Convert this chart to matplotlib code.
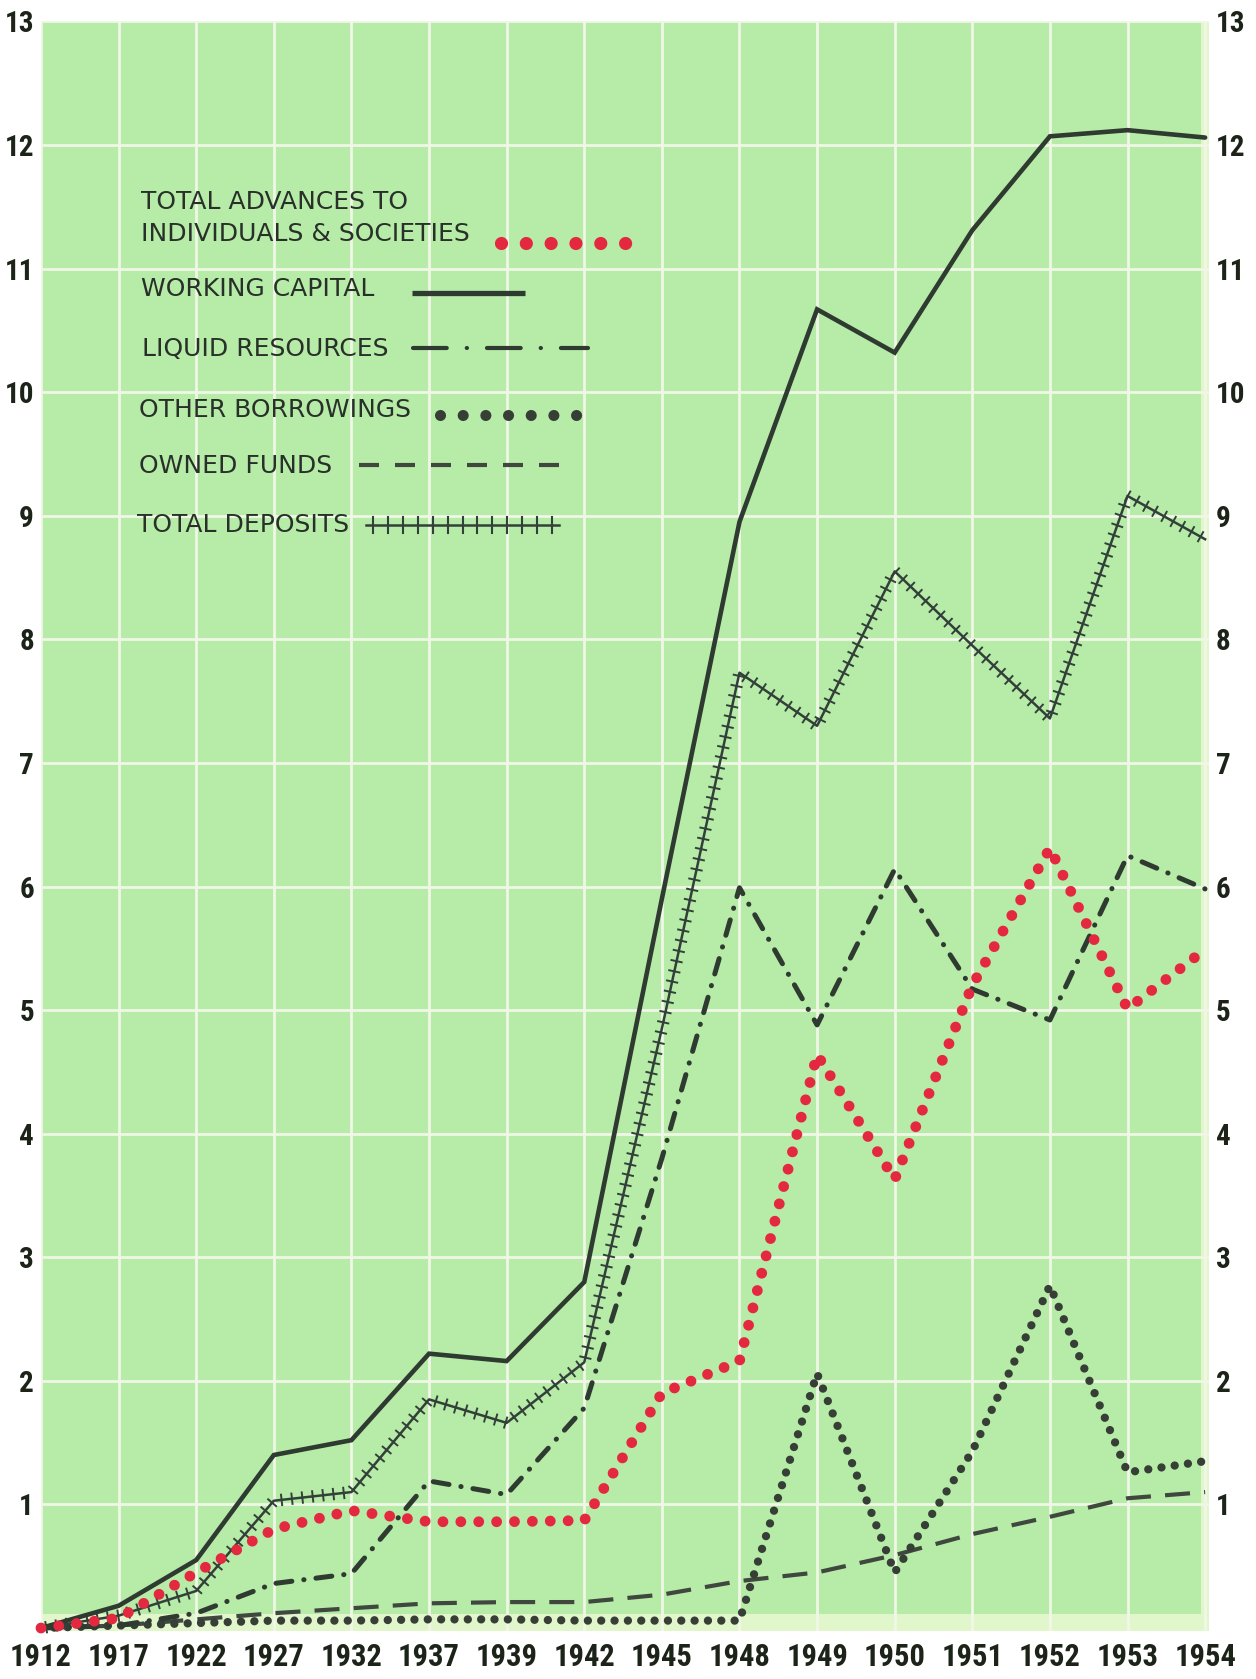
import matplotlib
matplotlib.use("Agg")
import matplotlib.pyplot as plt
import matplotlib.patheffects as pe
from matplotlib.lines import Line2D

# years on the x axis (equally spaced categories)
years = ["1912", "1917", "1922", "1927", "1932", "1937", "1939", "1942",
         "1945", "1948", "1949", "1950", "1951", "1952", "1953", "1954"]

# values
working_capital = [0.0, 0.18, 0.55, 1.40, 1.52, 2.22, 2.16, 2.80,
                   5.90, 8.95, 10.67, 10.32, 11.31, 12.07, 12.12, 12.06]
total_deposits = [0.0, 0.10, 0.30, 1.03, 1.10, 1.85, 1.66, 2.15,
                  4.85, 7.73, 7.30, 8.55, 7.95, 7.36, 9.16, 8.81]
liquid_resources = [0.0, 0.02, 0.12, 0.36, 0.44, 1.19, 1.08, 1.78,
                    3.80, 5.99, 4.88, 6.14, 5.17, 4.92, 6.25, 5.98]
total_advances = [0.0, 0.08, 0.45, 0.80, 0.95, 0.86, 0.86, 0.87,
                  1.90, 2.16, 4.64, 3.63, 5.20, 6.31, 5.01, 5.49]
other_borrowings = [0.0, 0.02, 0.04, 0.06, 0.06, 0.07, 0.07, 0.06,
                    0.06, 0.06, 2.06, 0.45, 1.43, 2.77, 1.26, 1.35]
owned_funds = [0.0, 0.02, 0.07, 0.12, 0.16, 0.20, 0.21, 0.21,
               0.27, 0.38, 0.45, 0.59, 0.76, 0.90, 1.05, 1.10]

y_ticks = list(range(1, 14))

GREEN = "#b6eca7"
PALE = "#e2f6cb"
GRID = "#f1f7e6"
INK = "#2f3a31"
RED = "#e3283f"
TXT = "#283029"
tick_font = ["Roboto Condensed", "Liberation Sans Narrow", "Open Sans Condensed",
             "Liberation Sans", "DejaVu Sans"]

W, H = 1256, 1679
fig = plt.figure(figsize=(W / 100, H / 100), dpi=100)
fig.patch.set_facecolor("white")


def fx(px):
    return px / W


def fy(py):
    return 1 - py / H


ax = fig.add_axes([fx(41), fy(1630.5), fx(1209) - fx(41), fy(21.4) - fy(1630.5)])
ax.set_facecolor(GREEN)
ax.set_xlim(0, 15.05)
ax.set_ylim(-0.02, 13)
for s in ax.spines.values():
    s.set_visible(False)

x = list(range(len(years)))
ax.set_xticks(x)
ax.set_xticklabels(years, fontfamily=tick_font, fontweight="bold", fontsize=22,
                   color="#1c2419")
ax.set_yticks(y_ticks)
ax.set_yticklabels([str(v) for v in y_ticks], fontfamily=tick_font, fontweight="bold",
                   fontsize=21, color="#1c2419")
ax.tick_params(axis="x", length=0, pad=8)
ax.tick_params(axis="y", length=0, pad=5, labelright=True)

ax.set_axisbelow(True)
ax.grid(True, color=GRID, linewidth=2.0)
ax.axhspan(-0.02, 0.11, color=PALE, zorder=0.3, linewidth=0)
ax.axvspan(14.95, 15.05, color=PALE, zorder=0.3, linewidth=0)

# owned funds - dashed
ax.plot(x, owned_funds, color="#3f473f", linewidth=3.0,
        linestyle=(0, (6, 3.4)), dash_capstyle="butt", clip_on=False, zorder=3)

# other borrowings - black dots
ax.plot(x, other_borrowings, color="#363e36", linewidth=6.0,
        linestyle=(0, (0.001, 1.6)), dash_capstyle="round", clip_on=False, zorder=3)

# liquid resources - dash dot
ax.plot(x, liquid_resources, color=INK, linewidth=3.6,
        linestyle=(0, (3.2, 2.4, 0.05, 2.4)), dash_capstyle="round",
        clip_on=False, zorder=4)

# total deposits - line with cross ticks
ticks_fx = [pe.TickedStroke(spacing=7.5, angle=90, length=0.5, linewidth=1.4),
            pe.TickedStroke(spacing=7.5, angle=-90, length=0.5, linewidth=1.4),
            pe.Normal()]
ax.plot(x, total_deposits, color="#33403a", linewidth=1.8,
        path_effects=ticks_fx, clip_on=False, zorder=4)

# working capital - solid
ax.plot(x, working_capital, color=INK, linewidth=3.3, solid_capstyle="round",
        solid_joinstyle="miter", clip_on=False, zorder=5)

# total advances - red dots
ax.plot(x, total_advances, color=RED, linewidth=7.8,
        linestyle=(0, (0.001, 1.65)), dash_capstyle="round", clip_on=False, zorder=6)

# legend block drawn inside the plot
legend_text = [
    ("TOTAL ADVANCES TO", 141, 209),
    ("INDIVIDUALS & SOCIETIES", 141, 241),
    ("WORKING CAPITAL", 141, 296),
    ("LIQUID RESOURCES", 142, 356),
    ("OTHER BORROWINGS", 139, 417),
    ("OWNED FUNDS", 139, 473),
    ("TOTAL DEPOSITS", 137, 532),
]
for label, px, py in legend_text:
    fig.text(fx(px), fy(py), label, fontsize=18, color=TXT, ha="left", va="baseline",
             fontfamily="DejaVu Sans")


def key(x0, x1, y0, **kw):
    fig.add_artist(Line2D([fx(x0), fx(x1)], [fy(y0), fy(y0)],
                          transform=fig.transFigure, **kw))


key(501, 626, 243, color=RED, linewidth=9.5, linestyle=(0, (0.001, 1.88)),
    dash_capstyle="round")
key(412, 525, 293, color=INK, linewidth=3.8, solid_capstyle="butt")
key(413, 588, 348, color=INK, linewidth=3.0, linestyle=(0, (8.1, 4.8, 0.05, 4.8)),
    dash_capstyle="round")
key(440, 586, 415, color="#363e36", linewidth=8.0, linestyle=(0, (0.001, 2.04)),
    dash_capstyle="round")
key(359, 562, 465, color="#3f473f", linewidth=3.0, linestyle=(0, (4.8, 3.84)),
    dash_capstyle="butt")
key(366, 559, 525, color="#33403a", linewidth=1.8,
    path_effects=[pe.TickedStroke(spacing=10, angle=90, length=0.58, linewidth=1.5),
                  pe.TickedStroke(spacing=10, angle=-90, length=0.58, linewidth=1.5),
                  pe.Normal()])

fig.savefig("out.png", dpi=100, facecolor="white")
